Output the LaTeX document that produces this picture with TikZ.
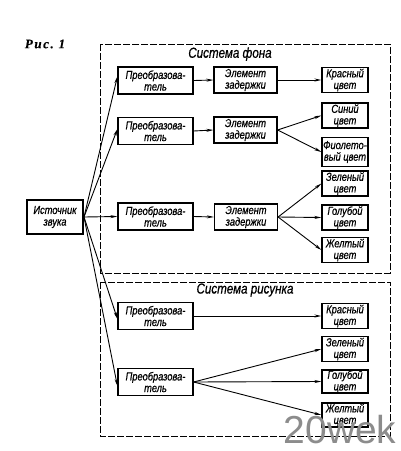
\documentclass[tikz,border=0pt]{standalone}
\usepackage{fontspec}
\setmainfont{Liberation Sans}
\newfontfamily\lab[FakeStretch=0.8,FakeBold=0.6]{Liberation Sans}
\newfontfamily\fig[FakeBold=0.3,LetterSpace=12]{Liberation Serif}
\usetikzlibrary{arrows.meta}
\begin{document}
\begin{tikzpicture}[x=1pt,y=-1pt,
  blk/.style={draw, line width=1.2pt, align=center, inner sep=0pt,
    font=\lab\itshape\fontsize{11.6}{11.6}\selectfont},
  conv/.style={blk, minimum width=75pt, minimum height=27pt},
  dly/.style={blk, minimum width=63pt, minimum height=26pt},
  col/.style={blk, minimum width=46pt, minimum height=25pt},
  arr/.style={line width=0.9pt, -{Stealth[length=7pt,width=3pt]}},
  frame/.style={line width=1pt, dash pattern=on 7pt off 2pt},
  ttl/.style={font=\lab\itshape\fontsize{14.5}{14.5}\selectfont}]
\useasboundingbox (0,0) rectangle (400,451);
% frames
\draw[frame] (100,44) rectangle (390,273);
\draw[frame] (100,282) rectangle (390,436);
\node[ttl] (t1) at (230,54) {Система фона};
\node[ttl] (t2) at (245,290) {Система рисунка};
\node[font=\fig\bfseries\itshape\fontsize{13}{13}\selectfont] (fig) at (45,44) {Рис.\ 1};
% source
\node[blk, minimum width=56pt, minimum height=34pt] (src) at (55,217) {Источник\\звука};
\coordinate (s) at (84,217);
% converters
\node[conv] (c1) at (155.5,80.5) {Преобразова-\\тель};
\node[conv] (c2) at (155.5,131) {Преобразова-\\тель};
\node[conv] (c3) at (155.5,216.5) {Преобразова-\\тель};
\node[conv] (c4) at (155.5,316) {Преобразова-\\тель};
\node[conv] (c5) at (155.5,382) {Преобразова-\\тель};
% delays
\node[dly] (d1) at (245.5,80) {Элемент\\задержки};
\node[dly] (d2) at (245.5,130) {Элемент\\задержки};
\node[dly] (d3) at (246,217) {Элемент\\задержки};
% colours
\node[col] (r1) at (345,80) {Красный\\цвет};
\node[col] (b1) at (345,115.5) {Синий\\цвет};
\node[col, minimum height=29pt] (v1) at (345,152) {Фиолето-\\вый цвет};
\node[col] (g1) at (345,183.5) {Зеленый\\цвет};
\node[col] (h1) at (345,217.5) {Голубой\\цвет};
\node[col] (y1) at (345,250) {Желтый\\цвет};
\node[col] (r2) at (345,316) {Красный\\цвет};
\node[col] (g2) at (345,349) {Зеленый\\цвет};
\node[col, minimum height=23pt] (h2) at (345,381.5) {Голубой\\цвет};
\node[col, minimum height=24pt] (y2) at (345,415) {Желтый\\цвет};
% source fan
\draw[arr] (s) -- ([yshift=4pt]c1.west);
\draw[arr] (s) -- ([yshift=2pt]c2.west);
\draw[arr] (s) -- (c3.west);
\draw[arr] (s) -- ([yshift=-3pt]c4.west);
\draw[arr] (s) -- ([yshift=-4pt]c5.west);
% converters to delays
\draw[arr] (c1.east) -- (d1.west);
\draw[arr] (c2.east) -- (d2.west);
\draw[arr] (c3.east) -- (d3.west);
% delays to colours
\draw[arr] (d1.east) -- (r1.west);
\draw[arr] (d2.east) -- (b1.west);
\draw[arr] (d2.east) -- (v1.west);
\draw[arr] (d3.east) -- (g1.west);
\draw[arr] (d3.east) -- (h1.west);
\draw[arr] (d3.east) -- (y1.west);
% picture system
\draw[arr] (c4.east) -- (r2.west);
\draw[arr] (c5.east) -- (g2.west);
\draw[arr] (c5.east) -- (h2.west);
\draw[arr] (c5.east) -- (y2.west);
% watermark
\node[anchor=base, text=black!45, font=\fontsize{39}{39}\selectfont, inner sep=0pt] (wm) at (340,443) {20wek};
\end{tikzpicture}
\end{document}
